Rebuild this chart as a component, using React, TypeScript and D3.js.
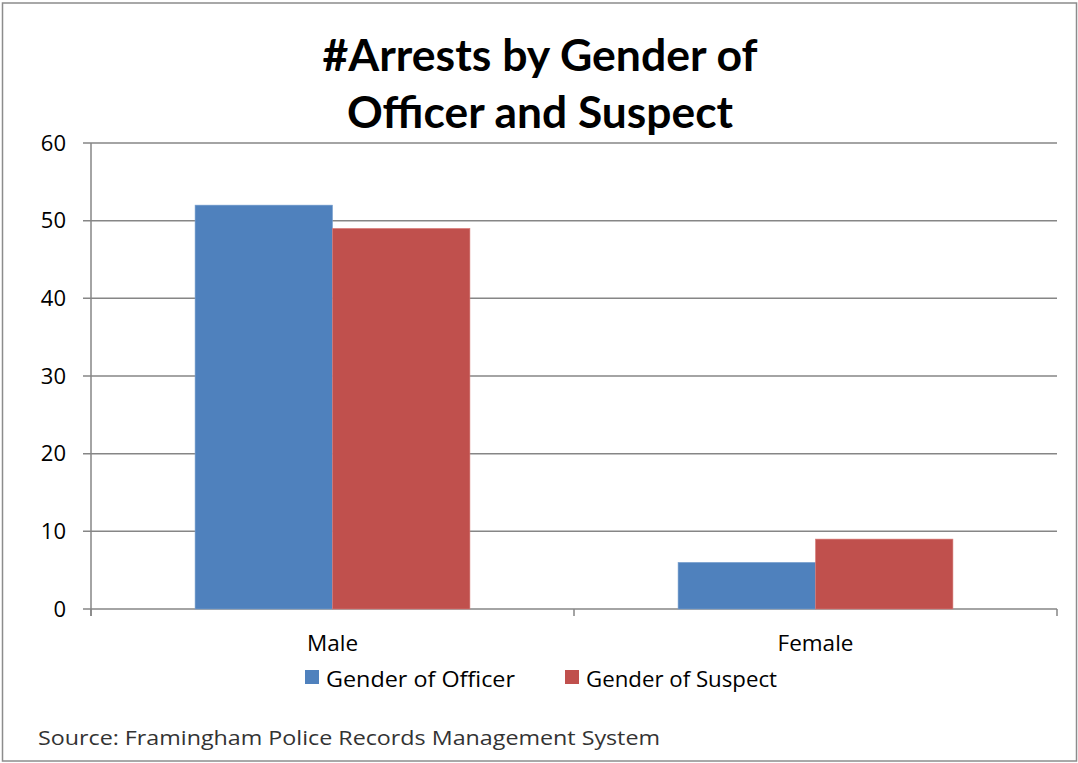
import React from "react";
import * as d3 from "d3";

const categories = ["Male", "Female"];
const seriesNames = ["Gender of Officer", "Gender of Suspect"];
const officerValues = [52, 6];
const suspectValues = [49, 9];
const yTicks = [0, 10, 20, 30, 40, 50, 60];
const titleLines = ["#Arrests by Gender of", "Officer and Suspect"];
const sourceText = "Source:  Framingham Police Records Management System";
const colors = ["#4F81BD", "#C0504D"];

export default function App() {
  const W = 1078, H = 763;
  const left = 91, right = 1057, top = 143, bottom = 609;
  const y = d3.scaleLinear().domain([0, 60]).range([bottom, top]);
  const x0 = d3.scaleBand().domain(categories).range([left, right]).paddingInner(0).paddingOuter(0);
  const catW = x0.bandwidth();
  const barW = catW / (2 + 1.515);
  const series = [officerValues, suspectValues];
  const font = "'Open Sans', sans-serif";
  const titleFont = "Lato, sans-serif";
  const grid = "#868686";
  const titleLens = [435, 386];
  const legendX = [305, 565];
  const legendTextX = [326, 586];
  const legendLens = [189, 191];
  return (
    <svg width={W} height={H} style={{ position: "absolute", left: 0, top: 0, background: "#fff" }}>
      <rect x={2.5} y={3} width={1074} height={758} fill="#fff" stroke="#8c8c8c" strokeWidth={1.5} />
      {titleLines.map((t, i) => (
        <text key={i} x={540} y={71 + i * 57} textAnchor="middle" fontFamily={titleFont} fontWeight={700} fontSize={43} fill="#000" textLength={titleLens[i]} lengthAdjust="spacingAndGlyphs">{t}</text>
      ))}
      {yTicks.map((v) => (
        <g key={v}>
          <line x1={83} x2={right} y1={y(v)} y2={y(v)} stroke={grid} strokeWidth={1.5} />
          <text x={66} y={y(v) + 7.5} textAnchor="end" fontFamily={font} fontSize={22} fill="#000">{v}</text>
        </g>
      ))}
      <line x1={left} x2={left} y1={top} y2={bottom + 7} stroke={grid} strokeWidth={1.5} />
      {[left, left + catW, right].map((xv, i) => (
        <line key={i} x1={xv} x2={xv} y1={bottom} y2={bottom + 7} stroke={grid} strokeWidth={1.5} />
      ))}
      {categories.map((c, ci) => {
        const cx = (x0(c) as number) + catW / 2;
        return (
          <g key={c}>
            {series.map((vals, si) => (
              <rect key={si} x={cx - barW + si * barW} y={y(vals[ci])} width={barW} height={bottom - y(vals[ci])} fill={colors[si]} stroke={si === 0 ? "#7aa0cf" : "#d77a78"} strokeWidth={0.6} />
            ))}
            <text x={cx} y={651} textAnchor="middle" fontFamily={font} fontSize={22.5} fill="#000">{c}</text>
          </g>
        );
      })}
      {seriesNames.map((n, i) => (
        <g key={n}>
          <rect x={legendX[i]} y={670} width={14} height={14} fill={colors[i]} />
          <text x={legendTextX[i]} y={686.5} fontFamily={font} fontSize={22} fill="#000" textLength={legendLens[i]} lengthAdjust="spacingAndGlyphs">{n}</text>
        </g>
      ))}
      <text x={38} y={745} fontFamily={font} fontSize={20} fill="#333" textLength={622} lengthAdjust="spacingAndGlyphs">{sourceText}</text>
    </svg>
  );
}
